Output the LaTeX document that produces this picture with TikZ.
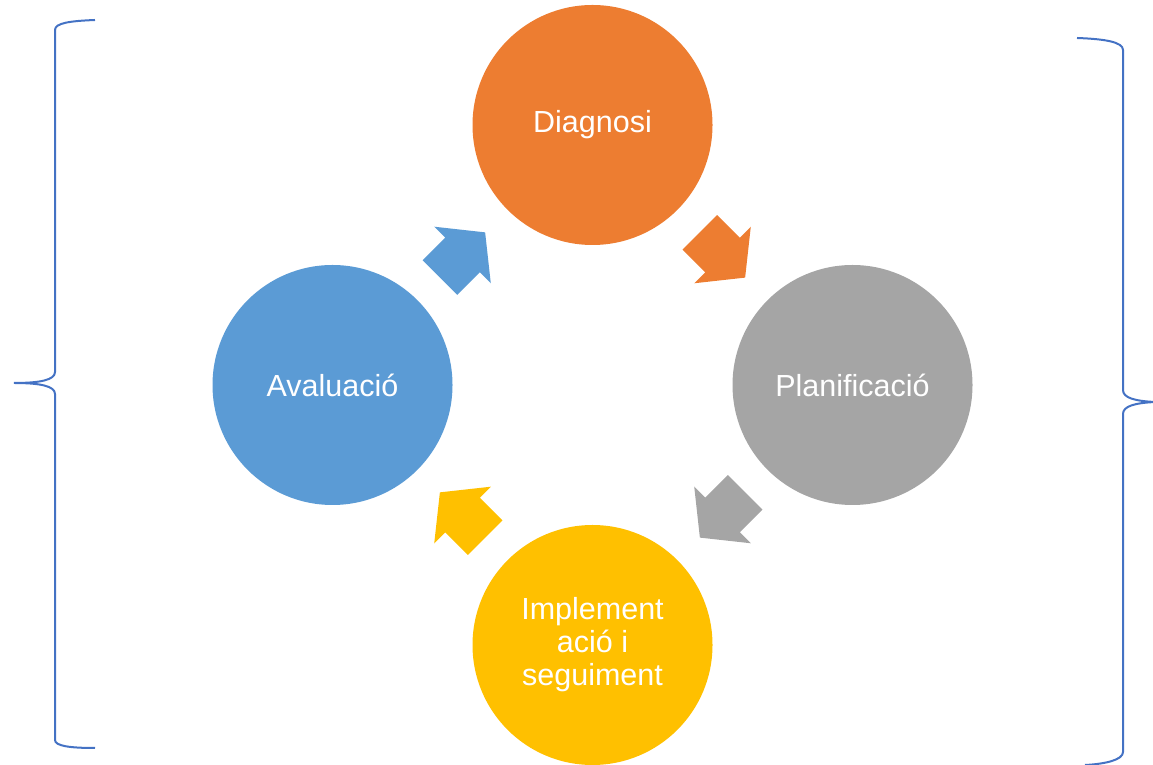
\documentclass[tikz,border=0pt]{standalone}
\usepackage{fontspec}
\setmainfont{Liberation Sans}
\usetikzlibrary{calc}

\definecolor{diagorange}{HTML}{ED7D31}
\definecolor{plangray}{HTML}{A5A5A5}
\definecolor{implyellow}{HTML}{FFC000}
\definecolor{avalblue}{HTML}{5B9BD5}
\definecolor{bracecol}{HTML}{4472C4}

\tikzset{
	phase/.style={circle, minimum size=240pt, inner sep=0pt, text=white, align=center, font=\fontsize{30.5}{33}\selectfont},
	cyclearrow/.pic={\fill[#1] (-32,-24.5) -- (0,-24.5) -- (0,-40) -- (32,0) -- (0,40) -- (0,24.5) -- (-32,24.5) -- cycle;},
	bracket/.style={draw=bracecol, line width=2pt}
}

\begin{document}
\begin{tikzpicture}[x=1pt,y=1pt]
	\useasboundingbox (0,0) rectangle (1153,765);
	%phases
		\node[phase, fill=diagorange] (diag) at (592.5,640) {Diagnosi};
		\node[phase, fill=plangray] (plan) at (852.5,380) {Planificació};
		\node[phase, fill=implyellow] (impl) at (592.5,120) {Implement\\ació i\\seguiment};
		\node[phase, fill=avalblue] (aval) at (332.5,380) {Avaluació};
	%arrows between phases
		\pic[rotate=-45] at ($(diag)!0.5!(plan)$) {cyclearrow=diagorange};
		\pic[rotate=-135] at ($(plan)!0.5!(impl)$) {cyclearrow=plangray};
		\pic[rotate=135] at ($(impl)!0.5!(aval)$) {cyclearrow=implyellow};
		\pic[rotate=45] at ($(aval)!0.5!(diag)$) {cyclearrow=avalblue};
	%left brace
		\draw[bracket] (95,745) .. controls (70,744) and (55,742) .. (55,735) -- (55,393) .. controls (55,385) and (40,382) .. (14,382) .. controls (40,382) and (55,379) .. (55,371) -- (55,25) .. controls (55,19) and (70,17) .. (95,17);
	%right brace
		\draw[bracket] (1077,727) .. controls (1105,726) and (1123,723) .. (1123,715) -- (1123,375) .. controls (1123,367) and (1135,364) .. (1155,363) .. controls (1135,362) and (1123,359) .. (1123,351) -- (1123,13) .. controls (1123,5) and (1105,1) .. (1085,0);
\end{tikzpicture}
\end{document}
